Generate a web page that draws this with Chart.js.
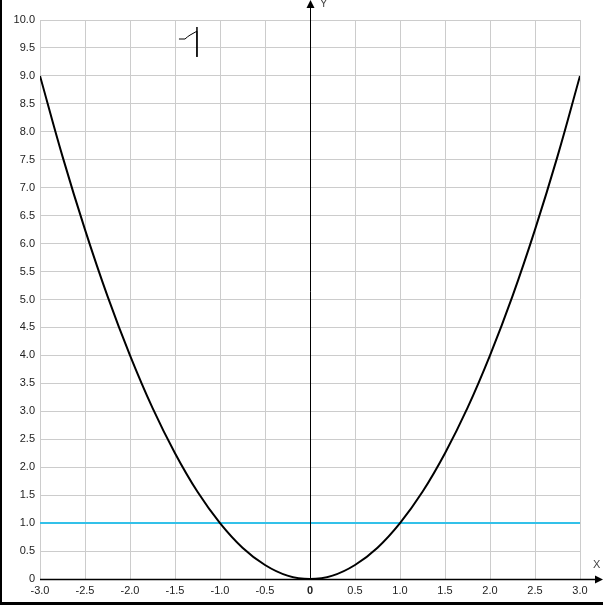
<!DOCTYPE html>
<html>
<head>
<meta charset="utf-8">
<script src="https://cdn.jsdelivr.net/npm/chart.js@4/dist/chart.umd.min.js"></script>
<style>
  html, body { margin: 0; padding: 0; background: #fff; }
  #wrap { width: 603px; height: 605px; position: relative; }
</style>
</head>
<body>
<div id="wrap"><canvas id="chart"></canvas></div>
<script>
// parabola
const curveX = [-3, -2.75, -2.5, -2.25, -2, -1.75, -1.5, -1.25, -1, -0.75, -0.5, -0.25, 0,
  0.25, 0.5, 0.75, 1, 1.25, 1.5, 1.75, 2, 2.25, 2.5, 2.75, 3];
const curveY = [9, 7.56, 6.25, 5.06, 4, 3.06, 2.25, 1.56, 1, 0.56, 0.25, 0.06, 0,
  0.06, 0.25, 0.56, 1, 1.56, 2.25, 3.06, 4, 5.06, 6.25, 7.56, 9];
// horizontal line y = 1
const levelX = [-3, 3];
const levelY = [1, 1];
// small stray mark near the top
const markX = [-1.456, -1.389, -1.36, -1.333, -1.3, -1.256, -1.256, -1.256];
const markY = [9.66, 9.66, 9.70, 9.73, 9.76, 9.80, 9.875, 9.34];

const X_MIN = -3, X_MAX = 3, Y_MIN = 0, Y_MAX = 10, STEP = 0.5;
const FONT = "Liberation Sans, Arial, sans-serif";

function toPoints(xs, ys) {
  return xs.map((x, i) => ({ x, y: ys[i] }));
}

function fmt(v) {
  return v === 0 ? "0" : v.toFixed(1);
}

// axes with arrows, axis names, frame lines
const axesPlugin = {
  id: "axes",
  afterDraw(chart) {
    const { ctx, chartArea, scales } = chart;
    const x0 = scales.x.getPixelForValue(0);
    const yb = scales.y.getPixelForValue(0);
    ctx.save();
    ctx.strokeStyle = "#000";
    ctx.fillStyle = "#000";
    ctx.lineWidth = 1;

    // y axis
    ctx.beginPath();
    ctx.moveTo(x0 + 0.5, chartArea.bottom);
    ctx.lineTo(x0 + 0.5, 4);
    ctx.stroke();
    ctx.beginPath();
    ctx.moveTo(x0 + 0.5, 0);
    ctx.lineTo(x0 - 3.5, 8);
    ctx.lineTo(x0 + 4.5, 8);
    ctx.closePath();
    ctx.fill();

    // x axis
    ctx.lineWidth = 1.5;
    ctx.beginPath();
    ctx.moveTo(chartArea.left, yb + 0.5);
    ctx.lineTo(597, yb + 0.5);
    ctx.stroke();
    ctx.beginPath();
    ctx.moveTo(603, yb + 0.5);
    ctx.lineTo(595, yb - 3.5);
    ctx.lineTo(595, yb + 4.5);
    ctx.closePath();
    ctx.fill();

    // axis names
    ctx.font = "11px " + FONT;
    ctx.fillStyle = "#444";
    ctx.textBaseline = "top";
    ctx.textAlign = "left";
    ctx.fillText("Y", x0 + 10, -2);
    ctx.fillText("X", 593, yb - 20);

    // frame (left and bottom)
    ctx.fillStyle = "#000";
    ctx.fillRect(0, 0, 2, 605);
    ctx.fillRect(0, 602, 603, 3);
    ctx.restore();
  }
};

new Chart(document.getElementById("chart"), {
  type: "scatter",
  data: {
    datasets: [
      {
        data: toPoints(levelX, levelY),
        showLine: true,
        borderColor: "#33c1e9",
        borderWidth: 2,
        pointRadius: 0,
        order: 2
      },
      {
        data: toPoints(curveX, curveY),
        showLine: true,
        borderColor: "#000",
        borderWidth: 2,
        pointRadius: 0,
        tension: 0.4,
        order: 1
      },
      {
        data: toPoints(markX, markY),
        showLine: true,
        borderColor: "#000",
        borderWidth: 1,
        pointRadius: 0,
        tension: 0,
        order: 0
      }
    ]
  },
  options: {
    responsive: true,
    maintainAspectRatio: false,
    animation: false,
    layout: { padding: { top: 20, right: 23, left: 0, bottom: 0 } },
    plugins: {
      legend: { display: false },
      tooltip: { enabled: false }
    },
    scales: {
      x: {
        type: "linear",
        min: X_MIN,
        max: X_MAX,
        afterFit: (s) => { s.height = 26; },
        ticks: {
          stepSize: STEP,
          padding: 5,
          color: "#222",
          font: (c) => ({ size: 11, family: FONT, weight: c.tick && c.tick.value === 0 ? "bold" : "normal" }),
          callback: (v) => fmt(v),
          maxRotation: 0,
          autoSkip: false
        },
        grid: { color: "#cccccc", drawTicks: false },
        border: { display: false }
      },
      y: {
        type: "linear",
        min: Y_MIN,
        max: Y_MAX,
        afterFit: (s) => { s.width = 40; },
        ticks: {
          stepSize: STEP,
          padding: 5,
          color: "#222",
          font: { size: 11, family: FONT },
          callback: (v) => fmt(v),
          autoSkip: false
        },
        grid: { color: "#cccccc", drawTicks: false },
        border: { display: false }
      }
    }
  },
  plugins: [axesPlugin]
});
</script>
</body>
</html>
